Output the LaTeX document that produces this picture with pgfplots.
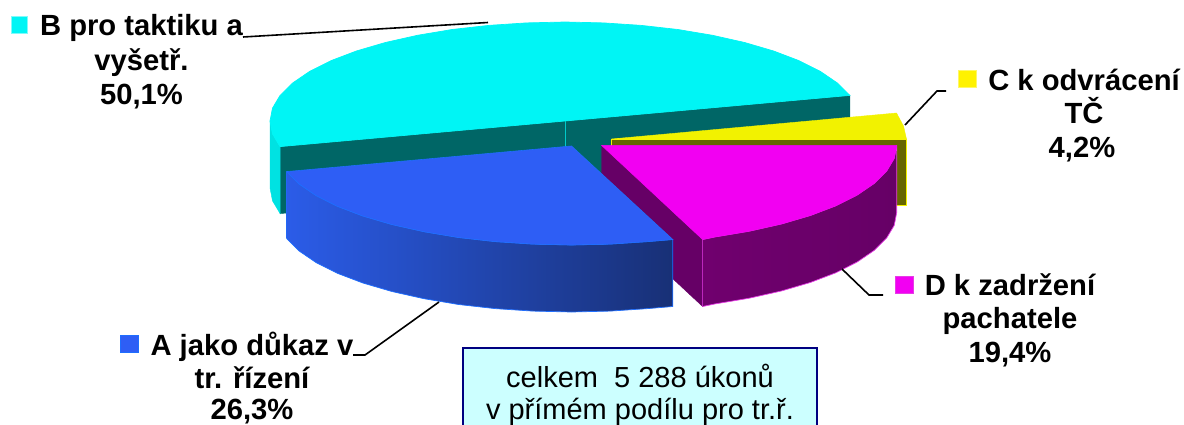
\documentclass[border=0pt]{standalone}
\usepackage{fontspec}
\setmainfont{Liberation Sans}
\usepackage{pgfplots}
\pgfplotsset{compat=1.18}
\definecolor{cyTop}{RGB}{0,245,245}
\definecolor{cySide}{RGB}{0,226,226}
\definecolor{cyWall}{RGB}{0,102,102}
\definecolor{yeTop}{RGB}{242,242,0}
\definecolor{yeWall}{RGB}{102,102,0}
\definecolor{maTop}{RGB}{242,0,242}
\definecolor{maEdge}{RGB}{230,60,230}
\definecolor{maWall}{RGB}{102,0,102}
\definecolor{maLight}{RGB}{112,0,110}
\definecolor{blTop}{RGB}{46,94,245}
\definecolor{blEdge}{RGB}{30,110,255}
\definecolor{blA}{RGB}{43,92,232}
\definecolor{blB}{RGB}{40,80,200}
\definecolor{blC}{RGB}{24,48,118}
\definecolor{boxFill}{RGB}{204,255,255}
\definecolor{boxEdge}{RGB}{0,0,128}
\newcommand{\lab}{\fontsize{29.2}{30}\selectfont\bfseries}
\newcommand{\boxt}{\fontsize{29}{30}\selectfont}
\begin{document}
\begin{tikzpicture}
\path[use as bounding box] (0,0) rectangle (1184pt,425pt);
\clip (0,0) rectangle (1184pt,425pt);
\begin{axis}[
  at={(0,0)}, anchor=south west,
  scale only axis, width=1184pt, height=425pt,
  xmin=0, xmax=1184, ymin=0, ymax=425, y dir=reverse,
  hide axis,
  every node/.append style={inner sep=0pt, outer sep=0pt},
]
% B slice: wall, side, top
\addplot[fill=cyWall, draw=cyWall] coordinates {(280.1,146.6)(849.9,95.4)(849.9,161)(280.1,213.6)} --cycle;
\addplot[fill=cySide, draw=cySide] coordinates {(270,121)(272.5,133.9)(280.1,146.6)(280.1,213.6)(272.5,200.9)(270,188)} --cycle;
\addplot[fill=cyTop, draw=cyTop, line width=0.7pt] coordinates {(849.9,95.4)(837.5,83.1)(820.5,71.5)(799.1,60.7)(773.6,51)(744.6,42.5)(712.5,35.3)(677.9,29.5)(641.3,25.4)(603.5,22.9)(565,22)(526.5,22.9)(488.7,25.4)(452.1,29.5)(417.5,35.3)(385.4,42.5)(356.4,51)(330.9,60.7)(309.5,71.5)(292.5,83.1)(280.1,95.4)(272.5,108.1)(270,121)(272.5,133.9)(280.1,146.6)} --cycle;
\addplot[draw=cyTop!70!cyWall, line width=0.8pt] coordinates {(565,121)(565,187)};
% C slice
\addplot[fill=yeWall, draw=yeTop, line width=0.8pt] coordinates {(611.5,139)(906.5,139)(906.5,205.5)(611.5,205.5)} --cycle;
\addplot[fill=yeTop, draw=yeTop] coordinates {(611.5,139)(896.5,113)(903.5,126.1)(906.5,139)} --cycle;
% D slice
\addplot[fill=maWall, draw=maWall] coordinates {(601.7,145.5)(702.6,239.5)(702.6,306.5)(601.7,212.5)} --cycle;
\addplot[left color=maLight, middle color=maWall, right color=maWall, draw=maEdge, line width=0.7pt] coordinates {(896.7,145.5)(894.2,158.4)(886.6,171.1)(874.2,183.4)(857.2,195)(835.8,205.8)(810.3,215.5)(781.3,224)(749.2,231.2)(714.6,237)(702.6,239.5)(702.6,306.5)(714.6,304)(749.2,298.2)(781.3,291)(810.3,282.5)(835.8,272.8)(857.2,262)(874.2,250.4)(886.6,238.1)(894.2,225.4)(896.7,212.5)} --cycle;
\addplot[fill=maTop, draw=maTop, line width=0.5pt] coordinates {(601.7,145.5)(896.7,145.5)(894.2,158.4)(886.6,171.1)(874.2,183.4)(857.2,195)(835.8,205.8)(810.3,215.5)(781.3,224)(749.2,231.2)(714.6,237)(702.6,239.5)} --cycle;
% A slice
\addplot[left color=blA, middle color=blB, right color=blC, draw=blEdge, line width=0.7pt] coordinates {(286.6,171.6)(299,183.9)(316,195.5)(337.4,206.3)(362.9,216)(391.9,224.5)(424,231.7)(458.6,237.5)(495.2,241.6)(533,244.1)(571.5,245)(610,244.1)(647.8,241.6)(672.8,239.5)(672.8,306.5)(647.8,308.6)(610,311.1)(571.5,312)(533,311.1)(495.2,308.6)(458.6,304.5)(424,298.7)(391.9,291.5)(362.9,283)(337.4,273.3)(316,262.5)(299,250.9)(286.6,238.6)} --cycle;
\addplot[fill=blTop, draw=blEdge, line width=0.6pt] coordinates {(571.5,146)(672.8,239.5)(647.8,241.6)(610,244.1)(571.5,245)(533,244.1)(495.2,241.6)(458.6,237.5)(424,231.7)(391.9,224.5)(362.9,216)(337.4,206.3)(316,195.5)(299,183.9)(286.6,171.6)} --cycle;
% leader lines
\addplot[black, line width=1.6pt] coordinates {(243,37)(488,22.5)};
\addplot[black, line width=1.6pt] coordinates {(905,125)(937,91)(946,91)};
\addplot[black, line width=1.6pt] coordinates {(842,269)(869,295)(883,295)};
\addplot[black, line width=1.6pt] coordinates {(439,302)(365,355)(353,355)};
% legend keys
\addplot[fill=cyTop, draw=cyTop!50, line width=1pt] coordinates {(11,17)(27,17)(27,34)(11,34)} --cycle;
\addplot[fill=yellow, draw=yellow!60, line width=1pt] coordinates {(958,71)(976,71)(976,88)(958,88)} --cycle;
\addplot[fill=maTop, draw=maEdge, line width=1pt] coordinates {(895,276)(913,276)(913,293)(895,293)} --cycle;
\addplot[fill=blTop, draw=blEdge, line width=1pt] coordinates {(120,335)(138,335)(138,352)(120,352)} --cycle;
% text box
\addplot[fill=boxFill, draw=boxEdge, line width=2pt] coordinates {(463,347.5)(817,347.5)(817,445)(463,445)} --cycle;
% labels
\node[anchor=base] at (axis cs:141.5,36) {\lab B pro taktiku a};
\node[anchor=base] at (axis cs:141.5,71) {\lab vyšetř.};
\node[anchor=base] at (axis cs:141.5,105) {\lab 50,1\%};
\node[anchor=base] at (axis cs:1084,90.7) {\lab C k odvrácení};
\node[anchor=base] at (axis cs:1084,124) {\lab TČ};
\node[anchor=base] at (axis cs:1082,158) {\lab 4,2\%};
\node[anchor=base] at (axis cs:1010,295) {\lab D k zadržení};
\node[anchor=base] at (axis cs:1010,328) {\lab pachatele};
\node[anchor=base] at (axis cs:1010,362) {\lab 19,4\%};
\node[anchor=base] at (axis cs:252,355) {\lab A jako důkaz v};
\node[anchor=base] at (axis cs:252,388) {\lab tr. řízení};
\node[anchor=base] at (axis cs:252,419.5) {\lab 26,3\%};
\node[anchor=base] at (axis cs:640,387) {\boxt celkem\ \ 5 288 úkonů};
\node[anchor=base] at (axis cs:640,419) {\boxt v přímém podílu pro tr.ř.};
\end{axis}
\end{tikzpicture}
\end{document}
